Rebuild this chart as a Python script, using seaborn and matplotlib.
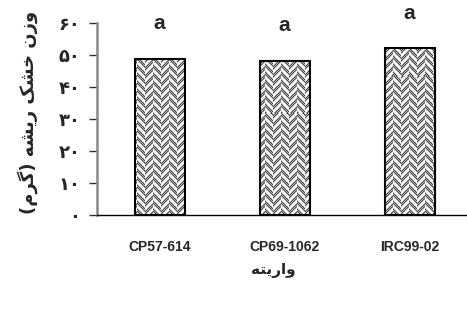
import numpy as np
import matplotlib
matplotlib.use("Agg")
import matplotlib.pyplot as plt
import seaborn as sns

# data
varieties = ["CP57-614", "CP69-1062", "IRC99-02"]
root_dry_weight = [48.6, 48.2, 52.0]
letters = ["a", "a", "a"]
y_ticks = [0, 10, 20, 30, 40, 50, 60]
y_tick_labels = ["۰", "۱۰", "۲۰", "۳۰", "۴۰", "۵۰", "۶۰"]

# Persian labels written in presentation forms, visual order (matplotlib has no shaping)
y_label = "(ﻡﺮﮔ) ﻪﺸﯾﺭ ﮏﺸﺧ ﻥﺯﻭ"
x_label = "ﻪﺘﯾﺭﺍﻭ"

sns.set_style("white")
plt.rcParams["font.family"] = ["DejaVu Sans"]

fig = plt.figure(figsize=(4.67, 3.22), dpi=100)
ax = fig.add_axes([97 / 467, 107 / 322, 370 / 467, 192.3 / 322])

sns.barplot(x=varieties, y=root_dry_weight, color="white", edgecolor="black",
            linewidth=1.5, width=0.4, ax=ax, zorder=3)

ax.set_xlim(-0.5, 2.46)
ax.set_ylim(0, 60)

# basket weave texture, clipped to each bar
h, w = 192, 370
yy, xx = np.mgrid[0:h, 0:w]
col = (xx // 8) % 2
d = np.where(col == 0, (xx + yy) % 8, (xx - yy) % 8)
dots = np.where((xx + yy) % 2 == 0, 0.3, 0.7)
tex = np.where(d < 3, 1.0, dots)
for bar in ax.patches:
    bar.set_facecolor((1, 1, 1, 0))
    im = ax.imshow(tex, cmap="gray", vmin=0, vmax=1, extent=(-0.5, 2.46, 0, 60),
                   aspect="auto", interpolation="nearest", zorder=2)
    im.set_clip_path(bar)
ax.set_xlim(-0.5, 2.46)
ax.set_ylim(0, 60)

# significance letters
for i, (v, s) in enumerate(zip(root_dry_weight, letters)):
    ax.text(i, v + 9.3, s, ha="center", va="baseline", fontsize=15,
            fontweight="bold", family=["Liberation Sans Narrow", "Liberation Sans"])

for side in ["top", "right"]:
    ax.spines[side].set_visible(False)
ax.spines["left"].set_color("#888888")
ax.spines["left"].set_linewidth(1.8)
ax.spines["bottom"].set_color("black")
ax.spines["bottom"].set_linewidth(1.0)

ax.set_yticks(y_ticks)
ax.set_yticklabels(y_tick_labels, fontsize=13, fontweight="bold")
ax.tick_params(axis="y", direction="out", length=6, width=1, color="#333333", pad=6, left=True)
ax.set_xticks([0, 1, 2])
ax.set_xticklabels(varieties, fontsize=10, fontweight="bold", family="Liberation Sans")
ax.tick_params(axis="x", length=0, pad=18)
ax.set_xticks([0.5, 1.5], minor=True)
ax.tick_params(axis="x", which="minor", direction="out", length=5, width=1, color="black")
ax.set_xlabel("")
ax.set_ylabel("")

fig.text(273 / 467, 1 - 270 / 322, x_label, ha="center", va="center",
         fontsize=11, fontweight="bold")
fig.text(28 / 467, 1 - 112 / 322, y_label, ha="center", va="center",
         rotation=90, fontsize=13, fontweight="bold")

fig.savefig("out.png", dpi=100)
